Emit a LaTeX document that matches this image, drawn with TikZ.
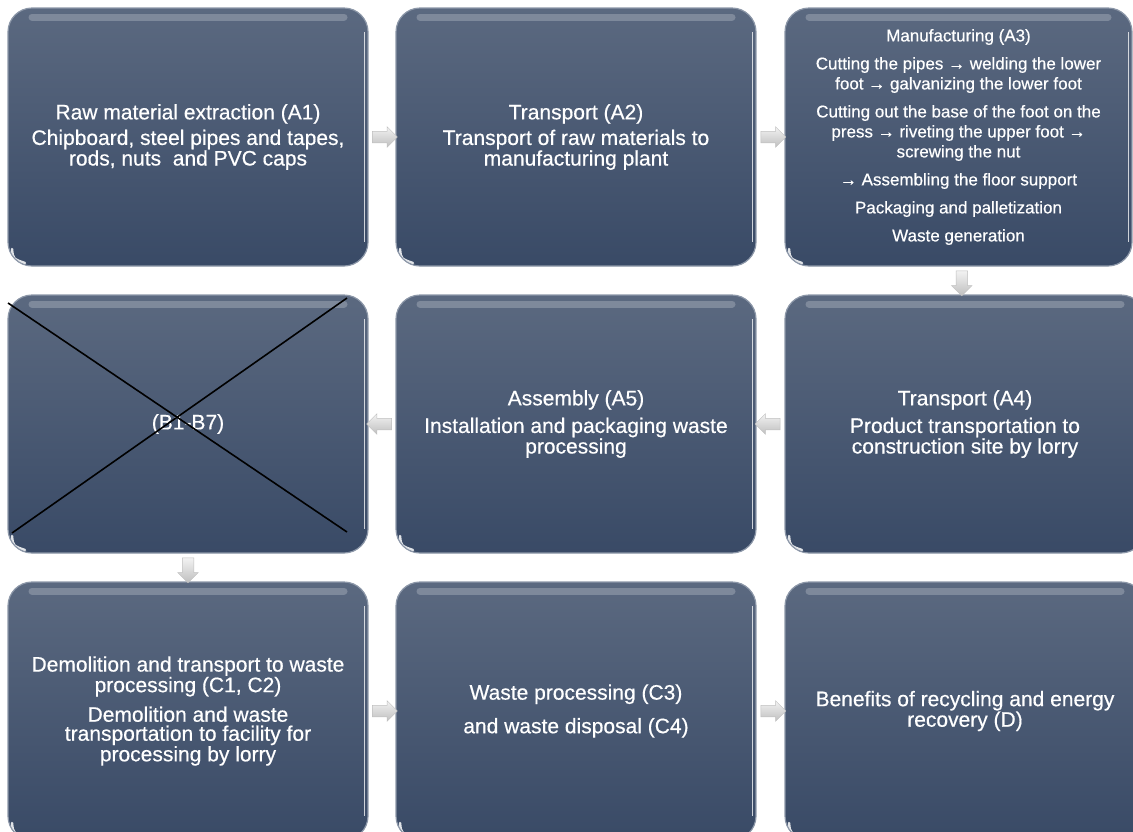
\documentclass[tikz,border=0pt]{standalone}
\usepackage{fontspec}
\setmainfont{Liberation Sans}[FakeBold=0.5]
\usetikzlibrary{shapes.arrows}

\definecolor{boxtop}{HTML}{5B6980}
\definecolor{boxbot}{HTML}{394A66}
\definecolor{boxrim}{HTML}{8C97A8}

\begin{document}
\begin{tikzpicture}[x=1pt,y=-1pt,
    stage/.style={rectangle,rounded corners=24pt,minimum width=360pt,minimum height=258pt,
        draw=boxrim,line width=1.2pt,top color=boxtop,bottom color=boxbot,
        text=white,align=center,inner sep=0pt,font=\fontsize{21}{19}\selectfont,
        path picture={
            \draw[white,opacity=.22,line width=7pt,line cap=round]
                ([xshift=24pt,yshift=-9pt]path picture bounding box.north west) --
                ([xshift=-24pt,yshift=-9pt]path picture bounding box.north east);
            \draw[white,opacity=.75,line width=1pt]
                ([xshift=-4pt,yshift=-24pt]path picture bounding box.north east) --
                ([xshift=-4pt,yshift=24pt]path picture bounding box.south east);
            \draw[white,opacity=.85,line width=2.5pt,line cap=round]
                ([xshift=4pt,yshift=17pt]path picture bounding box.south west) .. controls
                ([xshift=5pt,yshift=7pt]path picture bounding box.south west) ..
                ([xshift=17pt,yshift=3pt]path picture bounding box.south west);
        }},
    flow/.style={single arrow,inner sep=5.5pt,minimum height=25pt,
        single arrow head extend=4.5pt,single arrow tip angle=90,
        draw=gray!50,line width=.5pt,top color=gray!10,bottom color=gray!50}]

    \clip (0,0) rectangle (1133,831);

    % first row
    \node[stage] (a1) at (188,137) {Raw material extraction (A1)\\[5pt]
        Chipboard, steel pipes and tapes,\\ rods, nuts\ \ and PVC caps};
    \node[stage] (a2) at (576,137) {Transport (A2)\\[5pt]
        Transport of raw materials to\\ manufacturing plant};
    \node[stage,minimum width=347pt,font=\fontsize{17}{20}\selectfont] (a3) at (958.5,137)
        {Manufacturing (A3)\\[8pt]
        Cutting the pipes → welding the lower\\ foot → galvanizing the lower foot\\[8pt]
        Cutting out the base of the foot on the\\ press → riveting the upper foot →\\ screwing the nut\\[8pt]
        → Assembling the floor support\\[8pt]
        Packaging and palletization\\[8pt]
        Waste generation};

    % second row
    \node[stage] (b) at (188,424) {(B1-B7)};
    \node[stage] (a5) at (576,424) {Assembly (A5)\\[7pt]
        Installation and packaging waste\\ processing};
    \node[stage] (a4) at (965,424) {Transport (A4)\\[7pt]
        Product transportation to\\ construction site by lorry};

    % third row
    \node[stage] (c12) at (188,711) {Demolition and transport to waste\\ processing (C1, C2)\\[9pt]
        Demolition and waste\\ transportation to facility for\\ processing by lorry};
    \node[stage] (c34) at (576,711) {Waste processing (C3)\\[13pt] and waste disposal (C4)};
    \node[stage] (d) at (965,711) {Benefits of recycling and energy\\ recovery (D)};

    % crossed out use stage
    \draw[line width=1.6pt] (8,303) -- (347,532);
    \draw[line width=1.6pt] (347,298) -- (12,533);

    % flow arrows
    \path (a1) -- node[flow] (f1) {} (a2);
    \path (a2) -- node[flow] (f2) {} (a3);
    \path (a3) -- node[flow,shape border rotate=270] (f3) {} (a4);
    \path (a4) -- node[flow,shape border rotate=180] (f4) {} (a5);
    \path (a5) -- node[flow,shape border rotate=180] (f5) {} (b);
    \path (b) -- node[flow,shape border rotate=270] (f6) {} (c12);
    \path (c12) -- node[flow] (f7) {} (c34);
    \path (c34) -- node[flow] (f8) {} (d);
\end{tikzpicture}
\end{document}
